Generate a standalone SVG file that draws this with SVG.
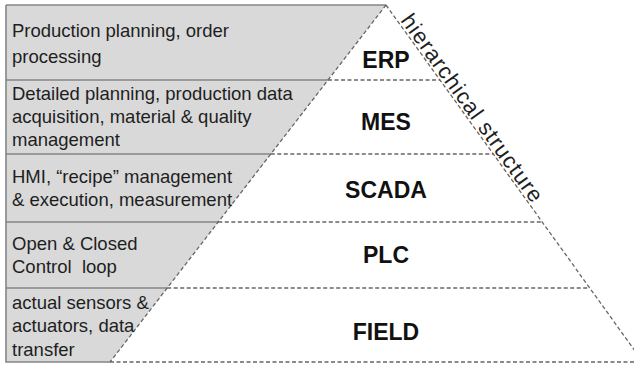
<svg xmlns="http://www.w3.org/2000/svg" width="634" height="365" viewBox="0 0 634 365">
  <style>
    .desc { font-family: "Liberation Sans", Arial, sans-serif; font-size: 18.5px; fill: #1e1e1e; white-space: pre; }
    .lbl { font-family: "Liberation Sans", Arial, sans-serif; font-size: 23px; font-weight: bold; fill: #111; text-anchor: middle; }
    .solid { stroke: #858585; stroke-width: 1.6; fill: none; }
    .dash { stroke: #666666; stroke-width: 1.3; stroke-dasharray: 4 2.5; fill: none; }
    .side { font-family: "Liberation Sans", Arial, sans-serif; font-size: 22px; fill: #1e1e1e; }
  </style>
  <rect x="0" y="0" width="634" height="365" fill="#ffffff"/>
  <g id="background">
    <polygon points="6,5 386,5 110,362 6,362" fill="#d9d9d9"/>
    <path class="solid" d="M6,5 H386 M6,5 V362 H110 M6,80 H328 M6,154 H270.8 M6,222 H218.3 M6,288 H167.2"/>
  </g>
  <g id="connectors">
    <path class="dash" d="M386,5 L110,362"/>
    <path class="dash" d="M386,5 L643,362"/>
    <path class="dash" d="M328,80 H440 M270.8,154 H493.3 M218.3,222 H542.2 M167.2,288 H589.8 M110,362 H634"/>
  </g>
  <g id="erp">
    <text class="desc" x="12" y="37">Production planning, order</text>
    <text class="desc" x="12" y="63">processing</text>
    <text class="lbl" x="386" y="68">ERP</text>
  </g>
  <g id="mes">
    <text class="desc" x="12" y="100">Detailed planning, production data</text>
    <text class="desc" x="12" y="123">acquisition, material &amp; quality</text>
    <text class="desc" x="12" y="146">management</text>
    <text class="lbl" x="386" y="130">MES</text>
  </g>
  <g id="scada">
    <text class="desc" x="12" y="183">HMI, “recipe” management</text>
    <text class="desc" x="12" y="206">&amp; execution, measurement</text>
    <text class="lbl" x="386" y="198">SCADA</text>
  </g>
  <g id="plc">
    <text class="desc" x="12" y="250">Open &amp; Closed</text>
    <text class="desc" x="12" y="273">Control  loop</text>
    <text class="lbl" x="386" y="263">PLC</text>
  </g>
  <g id="field">
    <text class="desc" x="12" y="309">actual sensors &amp;</text>
    <text class="desc" x="12" y="332">actuators, data</text>
    <text class="desc" x="12" y="356">transfer</text>
    <text class="lbl" x="386" y="340">FIELD</text>
  </g>
  <g id="hierarchy-label">
    <text class="side" x="400" y="20.5" textLength="226" transform="rotate(54.25 400 20.5)">hierarchical structure</text>
  </g>
</svg>
